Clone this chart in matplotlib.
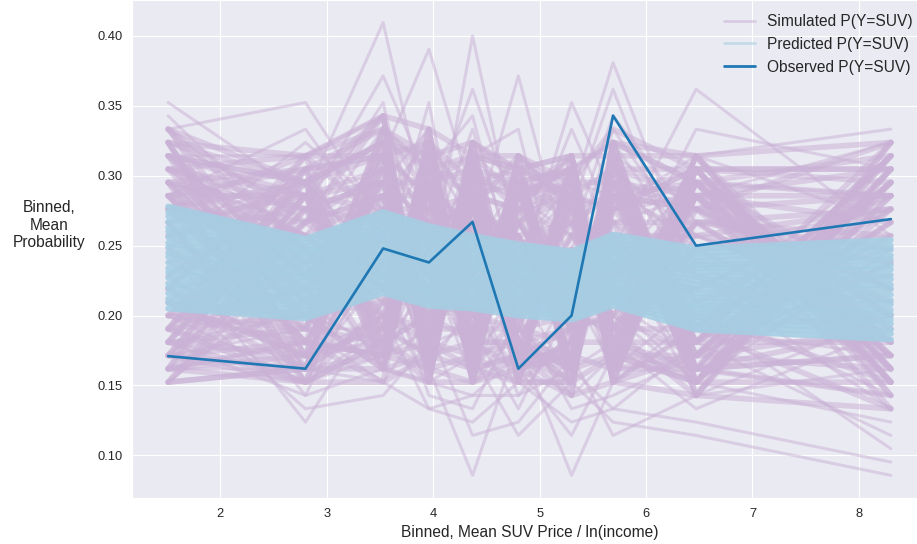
import numpy as np
import matplotlib
matplotlib.use("Agg")
import matplotlib.pyplot as plt
from matplotlib.lines import Line2D
import seaborn as sns

# ---------------- data ----------------
bin_x = [1.51, 2.80, 3.53, 3.96, 4.37, 4.80, 5.30, 5.69, 6.47, 8.30]
bin_size = 105  # observations per bin (simulated values are counts / bin_size)

observed = [0.171, 0.162, 0.248, 0.238, 0.267, 0.162, 0.200, 0.343, 0.250, 0.269]

# simulated draws that wander far from the centre (drawn thin)
simulated_spread_counts = [
    [37, 30, 43, 28, 24, 27, 22, 31, 26, 29],
    [36, 26, 33, 41, 30, 22, 25, 29, 33, 35],
    [35, 37, 28, 24, 42, 26, 30, 40, 24, 22],
    [34, 29, 39, 31, 27, 39, 24, 26, 38, 27],
    [33, 33, 36, 26, 35, 24, 37, 30, 21, 33],
    [32, 24, 31, 35, 22, 30, 27, 36, 28, 18],
    [31, 28, 37, 22, 33, 35, 19, 25, 31, 30],
    [30, 35, 27, 33, 28, 20, 32, 34, 25, 24],
    [29, 22, 34, 29, 38, 28, 21, 23, 35, 32],
    [28, 31, 25, 37, 20, 33, 29, 38, 22, 26],
    [27, 20, 32, 27, 31, 25, 35, 28, 30, 34],
    [26, 34, 29, 20, 26, 31, 23, 32, 27, 21],
    [25, 27, 35, 32, 36, 23, 28, 21, 33, 28],
    [24, 32, 23, 25, 23, 29, 33, 27, 20, 31],
    [23, 25, 30, 34, 29, 21, 26, 33, 29, 23],
    [22, 30, 26, 23, 34, 32, 20, 24, 23, 30],
    [21, 23, 33, 30, 21, 26, 31, 30, 32, 19],
    [20, 29, 24, 21, 32, 18, 25, 35, 26, 27],
    [19, 21, 31, 28, 25, 30, 22, 22, 18, 25],
    [18, 26, 22, 31, 19, 24, 30, 29, 31, 16],
    [17, 19, 29, 19, 27, 27, 18, 26, 21, 24],
    [16, 24, 21, 27, 30, 19, 27, 20, 28, 20],
    [35, 18, 28, 24, 18, 22, 24, 31, 19, 28],
    [34, 16, 20, 30, 24, 31, 17, 19, 25, 17],
    [33, 27, 26, 18, 29, 17, 29, 25, 17, 32],
    [31, 22, 18, 26, 17, 28, 21, 32, 24, 14],
    [30, 17, 24, 22, 26, 20, 15, 18, 27, 22],
    [29, 25, 17, 25, 16, 25, 28, 22, 16, 26],
    [28, 15, 27, 17, 22, 16, 23, 17, 22, 15],
    [27, 21, 19, 23, 28, 23, 16, 27, 15, 21],
    [26, 13, 22, 16, 15, 18, 26, 16, 20, 18],
    [25, 20, 16, 21, 24, 15, 20, 21, 16, 13],
    [24, 17, 25, 15, 14, 21, 14, 15, 18, 25],
    [23, 14, 15, 19, 20, 14, 22, 19, 14, 20],
    [22, 18, 21, 14, 13, 16, 13, 14, 19, 12],
    [21, 16, 18, 20, 12, 13, 18, 12, 15, 17],
    [20, 23, 23, 17,  9, 19,  9, 16, 21, 11],
    [19, 15, 17, 16, 18, 12, 16, 13, 12,  9],
    [18, 20, 20, 18, 21, 17, 12, 18, 17, 15],
    [17, 17, 16, 14, 15, 15, 17, 14, 13, 10],
]

# simulated draws inside the dense core of the band
simulated_core_counts = [
    [34, 18, 35, 17, 33, 16, 32, 18, 31, 15],
    [17, 32, 18, 34, 16, 33, 15, 34, 16, 33],
    [33, 31, 17, 33, 18, 31, 17, 33, 15, 32],
    [18, 17, 34, 16, 32, 17, 33, 16, 32, 16],
    [32, 27, 30, 18, 17, 28, 31, 17, 29, 34],
    [19, 30, 19, 32, 30, 18, 16, 31, 17, 18],
    [31, 16, 29, 29, 19, 32, 30, 19, 33, 17],
    [20, 33, 33, 19, 31, 19, 18, 32, 18, 31],
    [30, 19, 18, 35, 18, 30, 32, 17, 30, 19],
    [21, 28, 36, 17, 34, 17, 19, 30, 19, 33],
    [35, 22, 32, 20, 29, 33, 17, 34, 31, 30],
    [16, 26, 17, 31, 16, 20, 29, 16, 20, 14],
    [29, 31, 20, 34, 20, 29, 33, 18, 28, 29],
    [22, 18, 34, 18, 33, 18, 20, 33, 17, 20],
    [33, 24, 31, 28, 17, 31, 16, 29, 32, 16],
    [18, 30, 19, 16, 32, 16, 31, 19, 16, 32],
    [28, 17, 33, 30, 21, 32, 19, 31, 29, 18],
    [23, 32, 18, 17, 30, 17, 30, 17, 18, 31],
    [34, 20, 35, 32, 19, 27, 18, 32, 30, 21],
    [17, 29, 21, 19, 34, 20, 32, 20, 15, 34],
    [32, 33, 28, 35, 16, 31, 16, 34, 33, 19],
    [19, 16, 19, 21, 31, 16, 33, 16, 18, 28],
    [27, 31, 34, 33, 18, 29, 17, 30, 31, 16],
    [21, 19, 16, 18, 29, 18, 30, 18, 16, 30],
    [35, 28, 30, 16, 33, 32, 20, 33, 19, 33],
    [20, 21, 17, 31, 17, 21, 31, 17, 30, 17],
    [30, 32, 33, 20, 28, 17, 18, 29, 32, 32],
    [17, 18, 20, 34, 18, 33, 29, 19, 17, 15],
    [33, 30, 36, 17, 32, 19, 16, 32, 20, 29],
    [16, 17, 18, 29, 20, 30, 32, 16, 31, 18],
    [31, 29, 31, 19, 30, 16, 19, 33, 16, 34],
    [18, 16, 22, 33, 17, 31, 28, 18, 33, 16],
    [34, 31, 17, 18, 34, 20, 17, 31, 18, 31],
    [19, 20, 35, 30, 19, 33, 30, 20, 30, 20],
    [29, 33, 19, 32, 31, 18, 15, 34, 17, 33],
    [22, 17, 32, 17, 16, 30, 33, 17, 32, 17],
    [32, 30, 18, 31, 33, 17, 18, 30, 16, 30],
    [17, 19, 33, 19, 18, 32, 31, 19, 31, 19],
    [35, 26, 20, 34, 29, 19, 17, 32, 18, 32],
    [20, 31, 34, 16, 32, 31, 32, 18, 33, 15],
    [28, 16, 16, 33, 17, 16, 16, 33, 15, 31],
    [23, 33, 36, 18, 31, 30, 31, 17, 32, 18],
    [33, 18, 19, 32, 16, 18, 17, 31, 19, 33],
    [16, 28, 32, 20, 33, 32, 33, 20, 30, 16],
    [31, 21, 17, 30, 19, 17, 19, 34, 16, 29],
    [19, 32, 35, 17, 30, 29, 30, 18, 31, 21],
    [34, 17, 21, 31, 18, 19, 16, 30, 20, 34],
    [18, 30, 31, 19, 34, 31, 32, 16, 32, 17],
    [30, 19, 18, 35, 17, 18, 18, 33, 17, 32],
    [21, 31, 33, 18, 31, 32, 30, 19, 30, 14],
    [33, 31, 34, 32, 33, 30, 32, 34, 31, 33],
    [31, 32, 33, 34, 31, 31, 30, 32, 32, 31],
    [32, 29, 31, 31, 32, 29, 31, 31, 30, 32],
    [30, 30, 32, 29, 30, 31, 29, 30, 29, 30],
    [29, 28, 30, 30, 28, 28, 30, 29, 30, 28],
    [28, 30, 29, 28, 29, 27, 28, 30, 27, 29],
    [19, 18, 20, 18, 19, 19, 17, 18, 18, 17],
    [18, 19, 18, 19, 17, 18, 18, 17, 17, 18],
    [17, 16, 19, 17, 18, 16, 16, 18, 16, 16],
    [20, 17, 21, 20, 20, 20, 19, 19, 19, 19],
    [21, 20, 19, 21, 19, 19, 20, 21, 18, 20],
    [34, 33, 35, 33, 34, 32, 33, 33, 33, 34],
    [16, 17, 17, 16, 16, 17, 15, 16, 15, 14],
    [35, 31, 36, 35, 33, 33, 31, 35, 32, 32],
    [27, 29, 28, 27, 30, 29, 27, 28, 28, 27],
    [22, 21, 22, 22, 21, 20, 21, 20, 20, 21],
    [30, 23, 28, 24, 29, 22, 27, 24, 29, 22],
    [24, 30, 23, 29, 23, 28, 22, 29, 22, 29],
    [29, 19, 27, 20, 28, 21, 26, 21, 28, 19],
    [19, 29, 20, 28, 19, 27, 20, 27, 19, 28],
    [31, 27, 22, 26, 30, 25, 24, 27, 27, 25],
    [26, 20, 31, 21, 24, 30, 23, 31, 20, 31],
    [20, 28, 24, 30, 22, 23, 29, 22, 31, 23],
    [32, 21, 27, 23, 27, 22, 28, 23, 23, 30],
    [18, 25, 29, 22, 29, 24, 21, 28, 24, 18],
    [30, 26, 21, 28, 21, 29, 25, 21, 28, 26],
    [23, 18, 26, 25, 28, 19, 27, 25, 21, 16],
    [31, 24, 30, 19, 25, 27, 20, 30, 29, 23],
    [17, 22, 25, 27, 21, 26, 24, 26, 19, 27],
    [29, 27, 23, 31, 27, 21, 30, 20, 26, 19],
    [20, 16, 30, 24, 20, 28, 23, 28, 17, 25],
    [33, 25, 27, 21, 30, 23, 26, 24, 30, 30],
]

predicted = [
    [0.205, 0.198, 0.216, 0.207, 0.205, 0.200, 0.197, 0.207, 0.190, 0.183],
    [0.209, 0.201, 0.219, 0.210, 0.208, 0.203, 0.199, 0.210, 0.193, 0.187],
    [0.212, 0.204, 0.222, 0.213, 0.210, 0.205, 0.202, 0.212, 0.196, 0.190],
    [0.216, 0.207, 0.225, 0.216, 0.213, 0.208, 0.204, 0.215, 0.199, 0.194],
    [0.220, 0.209, 0.228, 0.218, 0.215, 0.210, 0.207, 0.217, 0.202, 0.197],
    [0.223, 0.212, 0.230, 0.221, 0.218, 0.213, 0.209, 0.220, 0.205, 0.201],
    [0.227, 0.215, 0.233, 0.224, 0.221, 0.215, 0.212, 0.222, 0.207, 0.204],
    [0.231, 0.218, 0.236, 0.227, 0.223, 0.218, 0.214, 0.225, 0.210, 0.208],
    [0.234, 0.221, 0.239, 0.230, 0.226, 0.220, 0.217, 0.227, 0.213, 0.211],
    [0.238, 0.224, 0.242, 0.233, 0.228, 0.223, 0.219, 0.230, 0.216, 0.215],
    [0.242, 0.227, 0.245, 0.236, 0.231, 0.226, 0.222, 0.233, 0.219, 0.219],
    [0.245, 0.229, 0.248, 0.238, 0.234, 0.228, 0.224, 0.235, 0.222, 0.222],
    [0.249, 0.232, 0.251, 0.241, 0.236, 0.231, 0.226, 0.238, 0.225, 0.226],
    [0.252, 0.235, 0.254, 0.244, 0.239, 0.233, 0.229, 0.240, 0.228, 0.229],
    [0.256, 0.238, 0.257, 0.247, 0.241, 0.236, 0.231, 0.243, 0.231, 0.233],
    [0.260, 0.241, 0.260, 0.250, 0.244, 0.238, 0.234, 0.245, 0.234, 0.236],
    [0.263, 0.244, 0.262, 0.253, 0.247, 0.241, 0.236, 0.248, 0.236, 0.240],
    [0.267, 0.246, 0.265, 0.255, 0.249, 0.243, 0.239, 0.250, 0.239, 0.243],
    [0.271, 0.249, 0.268, 0.258, 0.252, 0.246, 0.241, 0.253, 0.242, 0.247],
    [0.274, 0.252, 0.271, 0.261, 0.254, 0.248, 0.244, 0.255, 0.245, 0.250],
    [0.278, 0.255, 0.274, 0.264, 0.257, 0.251, 0.246, 0.258, 0.248, 0.254],
]

labels = ["Simulated P(Y=SUV)", "Predicted P(Y=SUV)", "Observed P(Y=SUV)"]
x_label = "Binned, Mean SUV Price / ln(income)"
y_label = "Binned,\nMean\nProbability"

# ---------------- style ----------------
sns.set_style("darkgrid")
plt.rcParams["font.family"] = ["Liberation Sans", "DejaVu Sans"]

c_sim = "#cab2d6"
c_pred = "#a6cee3"
c_obs = "#1f78b4"

fig = plt.figure(figsize=(9.17, 5.44), dpi=100)
ax = fig.add_axes([132 / 917, 46 / 544, (927 - 132) / 917, 498 / 544])

xs = np.array(bin_x)
for row in simulated_spread_counts:
    ax.plot(xs, np.array(row) / bin_size, color=c_sim, alpha=0.5, lw=2.2, zorder=2)
for row in simulated_core_counts:
    ax.plot(xs, np.array(row) / bin_size, color=c_sim, alpha=0.55, lw=4.0, zorder=2)
for row in predicted:
    ax.plot(xs, row, color=c_pred, alpha=0.9, lw=4.2, zorder=3)
ax.plot(xs, observed, color=c_obs, lw=1.9, zorder=4)

ax.set_xticks([2, 3, 4, 5, 6, 7, 8])
ax.set_yticks([0.10, 0.15, 0.20, 0.25, 0.30, 0.35, 0.40])
ax.set_yticklabels([f"{v:.2f}" for v in ax.get_yticks()])
ax.tick_params(labelsize=9.3, colors="#262626")

ax.set_xlabel(x_label, fontsize=11.2, color="#262626")
ax.set_ylabel(y_label, fontsize=11.2, rotation=0, color="#262626",
              va="center", ha="center")
ax.yaxis.set_label_coords(-0.104, 0.548)

handles = [
    Line2D([], [], color=c_sim, alpha=0.55, lw=2.0),
    Line2D([], [], color=c_pred, alpha=0.55, lw=2.0),
    Line2D([], [], color=c_obs, lw=2.0),
]
ax.legend(handles, labels, loc="upper right", fontsize=11.2, frameon=False)

fig.savefig("out.png", dpi=100)
